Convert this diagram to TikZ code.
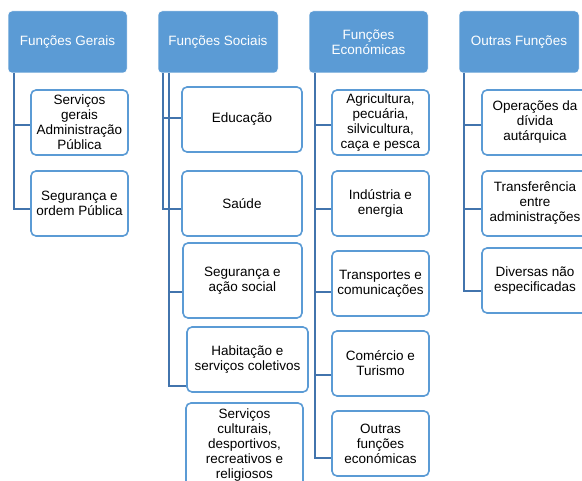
\documentclass[tikz,border=0pt]{standalone}
\usepackage{fontspec}
\setmainfont{Liberation Sans}
\definecolor{hdr}{HTML}{5B9BD5}
\definecolor{conn}{HTML}{4274AD}
\tikzset{
  txt/.style={font=\fontsize{13.5}{15}\selectfont, align=center, inner sep=0pt},
  hdrbox/.style={txt, rectangle, rounded corners=4pt, fill=hdr, draw=white, line width=0.5pt, text=white, minimum height=62},
  kidbox/.style={txt, rectangle, rounded corners=5pt, fill=white, draw=hdr, line width=1.6pt, text=black},
  link/.style={draw=conn, line width=2.4pt}
}
\begin{document}
\begin{tikzpicture}[x=1pt,y=-1pt]
\useasboundingbox (0,0) rectangle (582,481);
\clip (0,0) rectangle (582,481);
\fill[white] (0,0) rectangle (582,481);
% headers
\node[hdrbox, minimum width=119] (g) at (67.5,42) {Funções Gerais};
\node[hdrbox, minimum width=120] (s) at (218,42) {Funções Sociais};
\node[hdrbox, minimum width=119] (e) at (368.5,42) {Funções\\Económicas};
\node[hdrbox, minimum width=120] (o) at (519,42) {Outras Funções};
% Gerais children
\node[kidbox, minimum width=97, minimum height=65] (g1) at (79.5,122.5) {Serviços\\gerais\\Administração\\Pública};
\node[kidbox, minimum width=97, minimum height=65] (g2) at (79.5,203.5) {Segurança e\\ordem Pública};
% Sociais children
\node[kidbox, minimum width=120, minimum height=65] (s1) at (242,119.5) {Educação};
\node[kidbox, minimum width=120, minimum height=65] (s2) at (242,203.5) {Saúde};
\node[kidbox, minimum width=119, minimum height=75] (s3) at (242.5,280.5) {Segurança e\\ação social};
\node[kidbox, minimum width=121, minimum height=65] (s4) at (247.5,359.5) {Habitação e\\serviços coletivos};
\node[kidbox, minimum width=117, minimum height=84] (s5) at (244.5,445) {Serviços\\culturais,\\desportivos,\\recreativos e\\religiosos};
% Economicas children
\node[kidbox, minimum width=97, minimum height=65] (e1) at (380.5,122.5) {Agricultura,\\pecuária,\\silvicultura,\\caça e pesca};
\node[kidbox, minimum width=97, minimum height=65] (e2) at (380.5,203.5) {Indústria e\\energia};
\node[kidbox, minimum width=97, minimum height=65] (e3) at (380.5,283.5) {Transportes e\\comunicações};
\node[kidbox, minimum width=97, minimum height=65] (e4) at (380.5,363.5) {Comércio e\\Turismo};
\node[kidbox, minimum width=97, minimum height=65] (e5) at (380.5,443.5) {Outras\\funções\\económicas};
% Outras children
\node[kidbox, minimum width=106, minimum height=65] (o1) at (535,122.5) {Operações da\\dívida\\autárquica};
\node[kidbox, minimum width=106, minimum height=65] (o2) at (535,203.5) {Transferência\\entre\\administrações};
\node[kidbox, minimum width=106, minimum height=65] (o3) at (535,280.5) {Diversas não\\especificadas};
% connectors
\draw[link] ([xshift=6pt]g.south west) |- ([yshift=-2.5pt]g1.west);
\draw[link] ([xshift=6pt]g.south west) |- ([yshift=-5.5pt]g2.west);
\draw[link] ([xshift=5pt]s.south west) |- ([yshift=1.5pt]s1.west);
\draw[link] ([xshift=5pt]s.south west) |- ([yshift=-5.5pt]s2.west);
\draw[link] ([xshift=11pt]s.south west) |- ([yshift=-11.5pt]s3.west);
\draw[link] ([xshift=11pt]s.south west) |- ([yshift=-26.5pt]s4.west);
\draw[link] ([xshift=6pt]e.south west) |- ([yshift=-2.5pt]e1.west);
\draw[link] ([xshift=6pt]e.south west) |- ([yshift=-5.5pt]e2.west);
\draw[link] ([xshift=6pt]e.south west) |- ([yshift=-8.5pt]e3.west);
\draw[link] ([xshift=6pt]e.south west) |- ([yshift=-11.5pt]e4.west);
\draw[link] ([xshift=6pt]e.south west) |- ([yshift=-14.5pt]e5.west);
\draw[link] ([xshift=5pt]o.south west) |- ([yshift=-2.5pt]o1.west);
\draw[link] ([xshift=5pt]o.south west) |- ([yshift=-5.5pt]o2.west);
\draw[link] ([xshift=5pt]o.south west) |- ([yshift=-10.5pt]o3.west);
\end{tikzpicture}
\end{document}
